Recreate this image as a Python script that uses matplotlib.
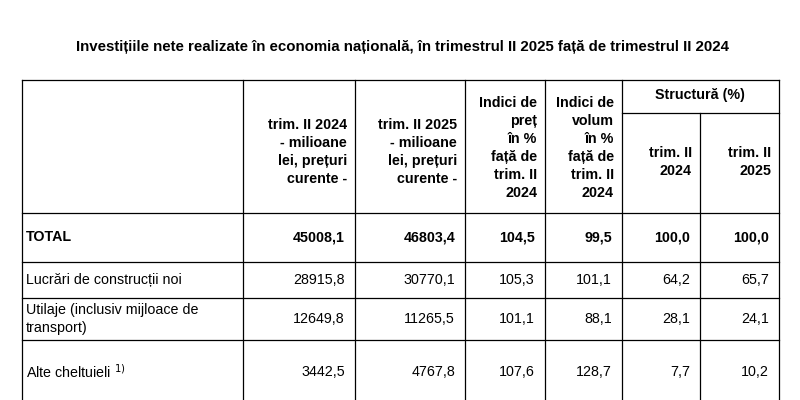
import matplotlib.pyplot as plt

# ── Data ─────────────────────────────────────────────────────────────────────
TITLE = "Investițiile nete realizate în economia națională, în trimestrul II 2025 față de trimestrul II 2024"
rows = ["TOTAL", "Lucrări de construcții noi",
        "Utilaje (inclusiv mijloace de\ntransport)", "Alte cheltuieli $^{1)}$"]
val_2024 = ["45008,1", "28915,8", "12649,8", "3442,5"]
val_2025 = ["46803,4", "30770,1", "11265,5", "4767,8"]
idx_pret = ["104,5", "105,3", "101,1", "107,6"]
idx_vol = ["99,5", "101,1", "88,1", "128,7"]
str_2024 = ["100,0", "64,2", "28,1", "7,7"]
str_2025 = ["100,0", "65,7", "24,1", "10,2"]
headers = ["trim. II 2024\n- milioane\nlei, prețuri\ncurente -",
           "trim. II 2025\n- milioane\nlei, prețuri\ncurente -",
           "Indici de\npreț\nîn %\nfață de\ntrim. II\n2024",
           "Indici de\nvolum\nîn %\nfață de\ntrim. II\n2024",
           "trim. II\n2024", "trim. II\n2025"]

# ── Layout (pixel coordinates) ───────────────────────────────────────────────
COLS = [22, 243, 355, 465, 545, 622, 700, 779]
ROW_Y = [80, 213, 262, 298, 340, 420]
FONT = "Liberation Sans"
FS = 10.3

fig = plt.figure(figsize=(8, 4), dpi=100)
ax = fig.add_axes([0, 0, 1, 1])
ax.set_xlim(0, 800)
ax.set_ylim(400, 0)
ax.axis('off')

ax.text(402, 47, TITLE, ha='center', va='center', fontsize=10.8,
        fontweight='bold', family=FONT)

lw = 0.9
for x in COLS:
    y0 = 113 if x == 700 else ROW_Y[0]
    ax.plot([x, x], [y0, 400], color='black', lw=lw)
for y in ROW_Y[:-1]:
    ax.plot([COLS[0], COLS[-1]], [y, y], color='black', lw=lw)
ax.plot([622, 779], [113, 113], color='black', lw=lw)

# headers
ax.text(700, 95, "Structură (%)", ha='center', va='center', fontsize=FS,
        fontweight='bold', family=FONT)
hy = [152, 152, 148, 148, 162, 162]
for i, h in enumerate(headers):
    ax.text(COLS[i + 2] - 8, hy[i], h, ha='right', va='center', fontsize=FS,
            fontweight='bold', family=FONT, linespacing=1.38)

# body
cols_data = [val_2024, val_2025, idx_pret, idx_vol, str_2024, str_2025]
row_cy = [237, 280, 319, 372]
for r, name in enumerate(rows):
    bold = 'bold' if r == 0 else 'normal'
    ax.text(COLS[0] + 4, row_cy[r], name, ha='left', va='center', fontsize=FS,
            fontweight=bold, family=FONT, linespacing=1.3)
    for c, col in enumerate(cols_data):
        ax.text(COLS[c + 2] - 10, row_cy[r], col[r], ha='right', va='center',
                fontsize=FS, fontweight=bold, family=FONT)

fig.savefig('out.png', dpi=100, facecolor='white')
